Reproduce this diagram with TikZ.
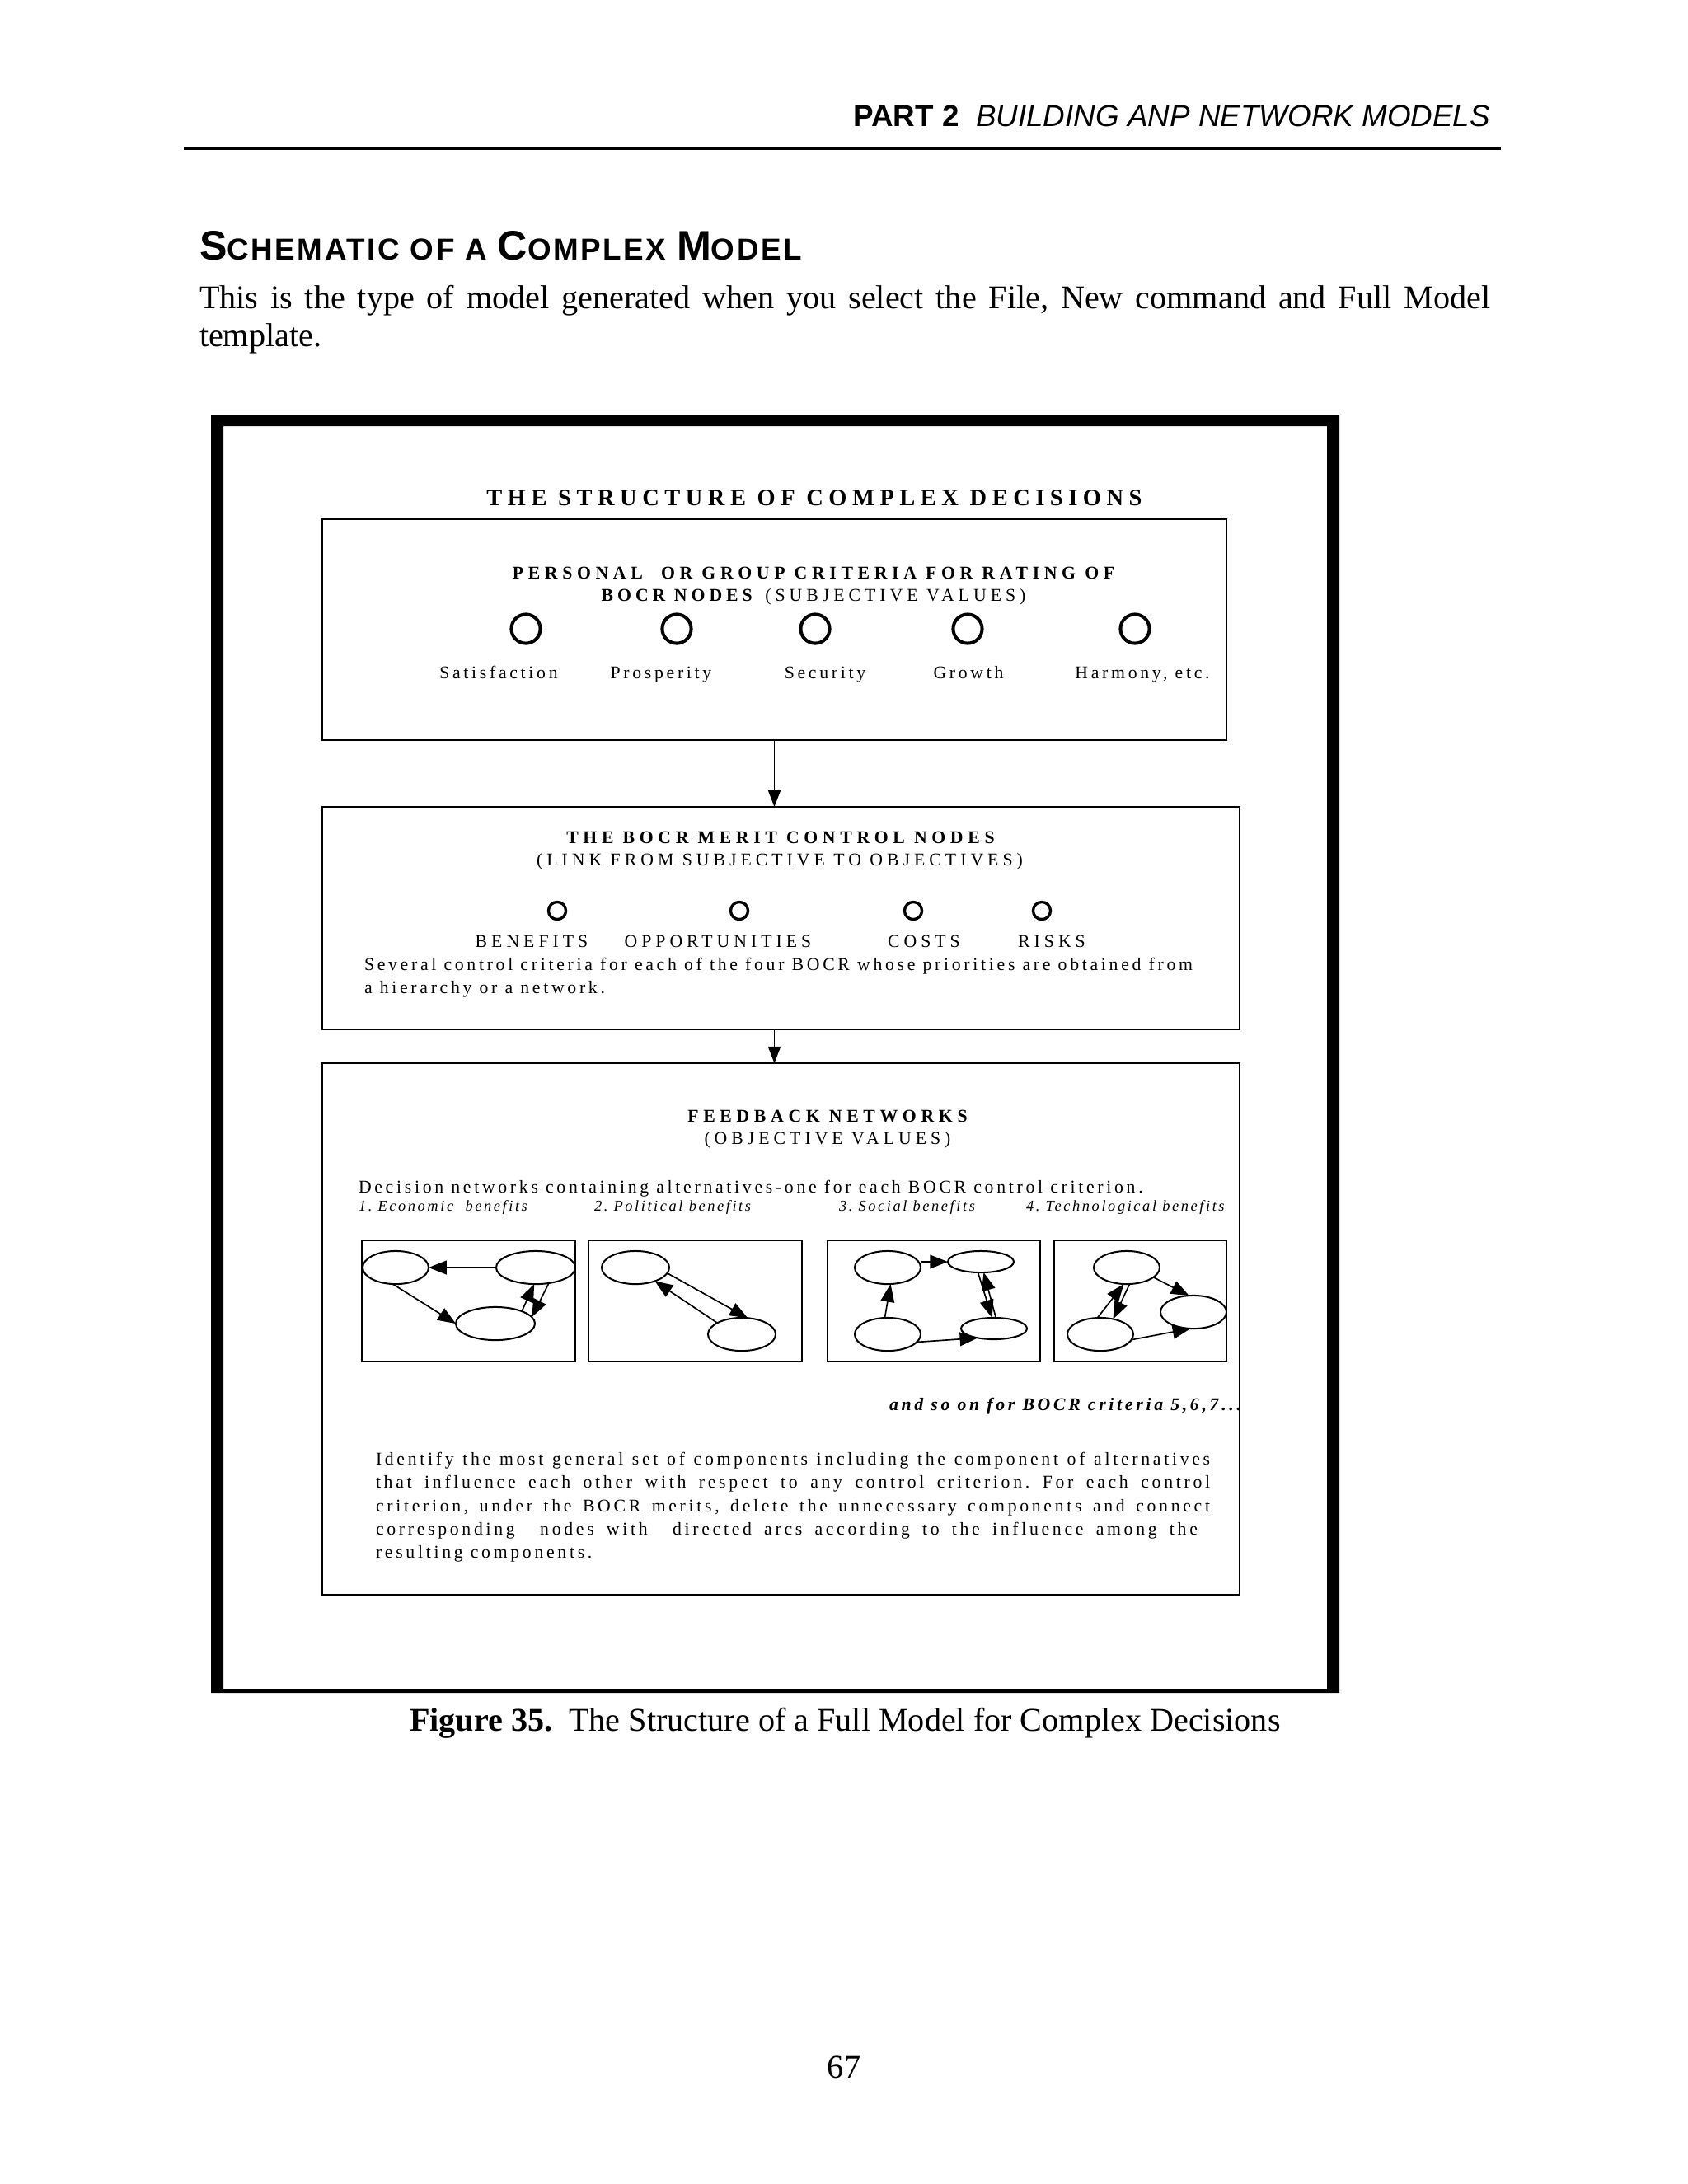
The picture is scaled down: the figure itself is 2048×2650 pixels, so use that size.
\documentclass[tikz,border=0pt]{standalone}
\usepackage{fontspec}
\setmainfont{Liberation Serif}
\newfontfamily\headsans{Liberation Sans}
\newfontfamily\headingfont[LetterSpace=7]{Liberation Sans}
\newfontfamily\titlefont[LetterSpace=23]{Liberation Serif}
\newfontfamily\boldcapsfont[LetterSpace=26]{Liberation Serif}
\newfontfamily\capsfont[LetterSpace=23]{Liberation Serif}
\newfontfamily\figfont[LetterSpace=17]{Liberation Serif}
\newfontfamily\labfont[LetterSpace=14]{Liberation Serif}
\usetikzlibrary{arrows.meta,fit,shapes.geometric}
\newcommand{\capfirst}[2]{{\fontsize{15pt}{18pt}\selectfont #1}{\fontsize{11pt}{13pt}\selectfont #2}}
\colorlet{bordercolor}{black}
\colorlet{linecolor}{black}
\tikzset{panel/.style={draw=bordercolor, line width=0.6pt, inner sep=0pt, outer sep=0pt},%
    netbox/.style={panel},%
    critnode/.style={shape=circle, draw=bordercolor, line width=1.2pt, minimum size=10.5pt, inner sep=0pt},%
    meritnode/.style={critnode, line width=1pt, minimum size=6.3pt},%
    compnode/.style 2 args={shape=ellipse, draw=bordercolor, line width=0.6pt, inner sep=0pt, outer sep=0pt, minimum width=#1, minimum height=#2},%
    conn/.style={-{Triangle[length=6.5pt,width=5pt]}, line width=0.5pt, color=linecolor},%
    flow/.style={-{Triangle[length=6pt,width=4.5pt]}, line width=0.5pt, color=linecolor},%
    txt/.style={inner sep=0pt, outer sep=0pt, anchor=base},%
    figtext/.style={txt, font=\figfont\fontsize{6.5pt}{8pt}\selectfont},%
    captext/.style={txt, font=\capsfont\fontsize{6.5pt}{8pt}\selectfont},%
    boldcap/.style={txt, font=\boldcapsfont\bfseries\fontsize{6.5pt}{8pt}\selectfont},%
    labtext/.style={txt, anchor=base west, font=\labfont\itshape\fontsize{5.5pt}{7pt}\selectfont},%
    pagetext/.style={txt, font=\fontsize{12pt}{14pt}\selectfont}%
}
\begin{document}
\frenchspacing
\begin{tikzpicture}[x=0.2988pt, y=-0.2988pt]
    \useasboundingbox (0,0) rectangle (2048,2650);
    \begin{scope} %page head and text
        \node[txt, anchor=base east, font=\headsans\fontsize{11pt}{13pt}\selectfont] (runhead) at (1808,153) {\textbf{PART 2}\ \ \textit{BUILDING ANP NETWORK MODELS}};
        \draw[line width=1pt] (223,180) -- (1821,180);
        \node[txt, anchor=base west, font=\headingfont\bfseries] (sechead) at (242,315) {\capfirst{S}{CHEMATIC OF A }\capfirst{C}{OMPLEX }\capfirst{M}{ODEL}};
        \node[pagetext, anchor=base west] (intro1) at (242,374) {\makebox[468pt][s]{This is the type of model generated when you select the File, New command and Full Model}};
        \node[pagetext, anchor=base west] (intro2) at (242,420) {template.};
    \end{scope}
    \begin{scope} %frame and panels
        \fill[bordercolor, even odd rule] (256,503) rectangle (1625,2054) (271,517) rectangle (1610,2049);
        \node[panel, fit={(391,630) (1488,898)}] (crit) {};
        \node[panel, fit={(391,979) (1504,1249)}] (merit) {};
        \node[panel, fit={(391,1290) (1504,1935)}] (fbnet) {};
        \foreach \nodename/\xa/\xb in {netA/439/698, netB/714/973, netC/1004/1262, netD/1279/1488}
            \node[netbox, fit={(\xa,1505) (\xb,1652)}] (\nodename) {};
        \path (crit.south) edge[flow] (crit.south |- merit.north);
        \path (crit.south |- merit.south) edge[flow] (crit.south |- fbnet.north);
    \end{scope}
    \begin{scope} %titles
        \node[txt, font=\titlefont\bfseries\fontsize{8.5pt}{10pt}\selectfont] (title) at (988,613) {THE STRUCTURE OF COMPLEX DECISIONS};
        \node[boldcap] (crittitle) at (987,702) {PERSONAL\ \ OR GROUP CRITERIA FOR RATING OF};
        \node[captext] (critsub) at (987,729) {\textbf{BOCR NODES} (SUBJECTIVE VALUES)};
        \node[boldcap] (merittitle) at (947,1023) {THE BOCR MERIT CONTROL NODES};
        \node[captext] (meritsub) at (946,1050) {(LINK FROM SUBJECTIVE TO OBJECTIVES)};
        \node[boldcap] (fbtitle) at (1004,1361) {FEEDBACK NETWORKS};
        \node[captext] (fbsub) at (1004,1388) {(OBJECTIVE VALUES)};
    \end{scope}
    \begin{scope} %criteria and merit nodes
        \foreach \nodename/\xpos in {sat/638, pros/821, sec/989, grow/1174, harm/1377}
            \node[critnode] (\nodename) at (\xpos,763) {};
        \foreach \nodename/\xpos/\labelcontent in {satl/605/Satisfaction, prosl/802/Prosperity, secl/1001/Security, growl/1175/Growth, harml/1386/{Harmony, etc.}}
            \node[figtext] (\nodename) at (\xpos,823) {\labelcontent};
        \foreach \nodename/\xpos in {ben/676, opp/897, cost/1108, risk/1264}
            \node[meritnode] (\nodename) at (\xpos,1105) {};
        \foreach \nodename/\xpos/\labelcontent in {benl/645/BENEFITS, oppl/871/OPPORTUNITIES, costl/1121/COSTS, riskl/1276/RISKS}
            \node[captext] (\nodename) at (\xpos,1149) {\labelcontent};
        \node[figtext, anchor=base west] (several) at (442,1177) {Several control criteria for each of the four BOCR whose priorities are obtained from};
        \node[figtext, anchor=base west] (several2) at (442,1205) {a hierarchy or a network.};
    \end{scope}
    \begin{scope} %feedback networks
        \node[figtext, anchor=base west] (decnet) at (435,1447) {Decision networks containing alternatives-one for each BOCR control criterion.};
        \foreach \nodename/\xpos/\labelcontent in {labA/435/{1. Economic\ \ benefits}, labB/721/{2. Political benefits}, labC/1018/{3. Social benefits}, labD/1245/{4. Technological benefits}}
            \node[labtext] (\nodename) at (\xpos,1469) {\labelcontent};
        \foreach \nodename/\xpos/\ypos/\ewd/\eht in {%
                A1/480/1538/23.9pt/12pt, A2/650/1538/28.7pt/12pt, A3/601/1606/28.7pt/12pt,
                B1/771/1538/24.5pt/12pt, B2/900/1619/24.5pt/12pt,
                C1/1077/1538/23.9pt/12pt, C2/1190/1531/23.9pt/7.8pt, C3/1077/1619/23.9pt/12pt, C4/1206/1612/23.9pt/7.8pt,
                D1/1367/1538/23.9pt/12pt, D2/1448/1592/23.9pt/12pt, D3/1335/1619/23.9pt/12pt
            } \node[compnode={\ewd}{\eht}] (\nodename) at (\xpos,\ypos) {};
        \path (A2) edge[conn] (A1);
        \path (A1.-100) edge[conn] (A3.west);
        \path (A3.25) edge[conn] (A2.-95);
        \path (A2.-50) edge[conn] (A3.10);
        \path (B1.-10) edge[conn] (B2.70);
        \path (B2.155) edge[conn] (B1.-35);
        \path (C1.east |- C2.west) edge[conn] (C2.west);
        \path (C3.100) edge[conn] (C1.-80);
        \path (C3.-15) edge[conn] (C4.-150);
        \path (C2.-105) edge[conn] (C4.100);
        \path (C4.80) edge[conn] (C2.-75);
        \path (D1.-20) edge[conn] (D2.105);
        \path (D3.100) edge[conn] (D1.-100);
        \path (D1.-80) edge[conn] (D3.50);
        \path (D3.-10) edge[conn] (D2.-100);
        \node[figtext, anchor=base east, font=\figfont\bfseries\itshape\fontsize{6.5pt}{8pt}\selectfont] (soon) at (1506,1711) {and so on for BOCR criteria 5,6,7...};
    \end{scope}
    \begin{scope} %closing paragraph
        \foreach \nodename/\ypos/\linetext in {%
                par1/1777/{Identify the most general set of components including the component of alternatives},
                par2/1805/{that influence each other with respect to any control criterion. For each control},
                par3/1834/{criterion, under the BOCR merits, delete the unnecessary components and connect},
                par4/1862/{corresponding\ \ nodes with\ \ directed arcs according to the influence among the}
            } \node[figtext, anchor=base west] (\nodename) at (456,\ypos) {\makebox[302.4pt][s]{\linetext}};
        \node[figtext, anchor=base west] (par5) at (456,1890) {resulting components.};
    \end{scope}
    \begin{scope} %caption and folio
        \node[pagetext, anchor=base west] (caption) at (497,2100) {\textbf{Figure 35.}\ \ The Structure of a Full Model for Complex Decisions};
        \node[pagetext] (folio) at (1024,2521) {67};
    \end{scope}
\end{tikzpicture}
\end{document}
